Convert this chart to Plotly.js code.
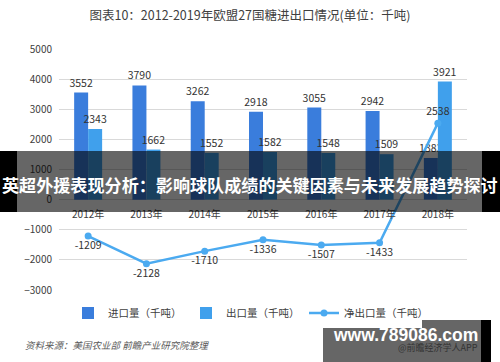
<!DOCTYPE html>
<html><head><meta charset="utf-8">
<script src="https://cdn.plot.ly/plotly-3.0.1.min.js"></script>
<style>html,body{margin:0;padding:0;background:#fff}#c{width:500px;height:362px}</style>
</head><body><div id="c"></div>
<script>
const years = ["2012年","2013年","2014年","2015年","2016年","2017年","2018年"];
const importVals = [3552,3790,3262,2918,3055,2942,1383];
const exportVals = [2343,1662,1552,1582,1548,1509,3921];
const netVals = [-1209,-2128,-1710,-1336,-1507,-1433,2538];
const seriesNames = ["进口量（千吨）","出口量（千吨）","净出口量（千吨）"];
const titleText = "图表10：2012-2019年欧盟27国糖进出口情况(单位：千吨)";
const sourceText = "资料来源：美国农业部 前瞻产业研究院整理";
const bannerText = "英超外援表现分析：影响球队成绩的关键因素与未来发展趋势探讨";
const siteText = "www.789086.com";
const appText = "@前瞻经济学人APP";

const W=500,H=362,L=59,R=33,T=49,B=72;
const PW=W-L-R, PH=H-T-B;
const px=x=>(x-L)/PW, py=y=>(H-B-y)/PH;
const CJK='"Noto Sans CJK SC", "Noto Sans", sans-serif';
const txt='#404040';

const traces=[
 {type:'bar',name:seriesNames[0],x:years,y:importVals,marker:{color:'#3A7DDC'},
  text:importVals.map(String),textposition:'outside',cliponaxis:false,constraintext:'none',
  textfont:{family:CJK,size:10.5,color:'#333'}},
 {type:'bar',name:seriesNames[1],x:years,y:exportVals,marker:{color:'#40A0EC'},
  text:exportVals.map(String),textposition:'outside',cliponaxis:false,constraintext:'none',
  textfont:{family:CJK,size:10.5,color:'#333'}},
 {type:'scatter',mode:'lines+markers+text',name:seriesNames[2],x:years,y:netVals,
  line:{color:'#4BAAF0',width:2.5},marker:{color:'#4BAAF0',size:7},
  text:netVals.map(String),
  textposition:netVals.map(v=>v>0?'top center':'bottom center'),cliponaxis:false,
  textfont:{family:CJK,size:10.5,color:'#333'}}
];

const layout={
 width:W,height:H,margin:{l:L,r:R,t:T,b:B},
 paper_bgcolor:'#fff',plot_bgcolor:'#fff',
 font:{family:CJK,color:txt},
 title:{text:titleText,x:0.5,xref:'container',xanchor:'center',y:1-16/H,yanchor:'middle',
   font:{family:CJK,size:12.5,color:'#404040'}},
 barmode:'group',bargap:0.52,bargroupgap:0,
 showlegend:true,
 legend:{orientation:'h',x:px(68),xanchor:'left',y:py(313),yanchor:'middle',
   font:{family:CJK,size:10.5,color:txt},itemwidth:30,traceorder:'normal',
   entrywidth:73,entrywidthmode:'pixels'},
 xaxis:{type:'category',anchor:'free',position:3000/8000,showline:false,ticks:'',
   showgrid:false,zeroline:false,tickfont:{family:CJK,size:10,color:txt},ticklabelstandoff:7},
 yaxis:{range:[-3000,5000],dtick:1000,showgrid:true,gridcolor:'#d9d9d9',gridwidth:1,
   zeroline:true,zerolinecolor:'#d9d9d9',showline:false,ticks:'',
   tickfont:{family:CJK,size:10,color:txt},ticklabelstandoff:6},
 shapes:[
  {type:'rect',xref:'paper',yref:'paper',x0:px(17),x1:px(482),y0:py(212),y1:py(151),
   fillcolor:'rgba(0,0,0,0.6)',line:{width:0},layer:'above'},
  {type:'rect',xref:'paper',yref:'paper',x0:px(0),x1:px(17),y0:py(212),y1:py(151),
   fillcolor:'#000',line:{width:0},layer:'above'},
  {type:'rect',xref:'paper',yref:'paper',x0:px(482),x1:px(500),y0:py(212),y1:py(151),
   fillcolor:'#000',line:{width:0},layer:'above'},
  {type:'rect',xref:'paper',yref:'paper',x0:px(323),x1:px(481),y0:py(362),y1:py(320),
   fillcolor:'#666',line:{width:0},layer:'above'},
  {type:'rect',xref:'paper',yref:'paper',x0:px(481),x1:px(491),y0:py(362),y1:py(320),
   fillcolor:'#000',line:{width:0},layer:'above'}
 ],
 annotations:[
  {text:bannerText,xref:'paper',yref:'paper',x:px(250),y:py(184),xanchor:'center',yanchor:'middle',
   showarrow:false,font:{family:CJK,size:17.1,color:'#fff',weight:'bold'}},
  {text:sourceText,xref:'paper',yref:'paper',x:px(23),y:py(345),xanchor:'left',yanchor:'middle',
   showarrow:false,font:{family:CJK,size:9.5,color:'#595959',style:'italic'}},
  {text:appText,xref:'paper',yref:'paper',x:px(480),y:py(347),xanchor:'right',yanchor:'middle',
   showarrow:false,font:{family:CJK,size:9,color:'#333'}},
  {text:siteText,xref:'paper',yref:'paper',x:px(405),y:py(335),xanchor:'center',yanchor:'middle',
   showarrow:false,font:{family:'"Liberation Sans", Arial, sans-serif',size:17.5,color:'#fff',weight:'bold'}}
 ]
};
Plotly.newPlot('c',traces,layout,{displayModeBar:false,staticPlot:true});
</script></body></html>
